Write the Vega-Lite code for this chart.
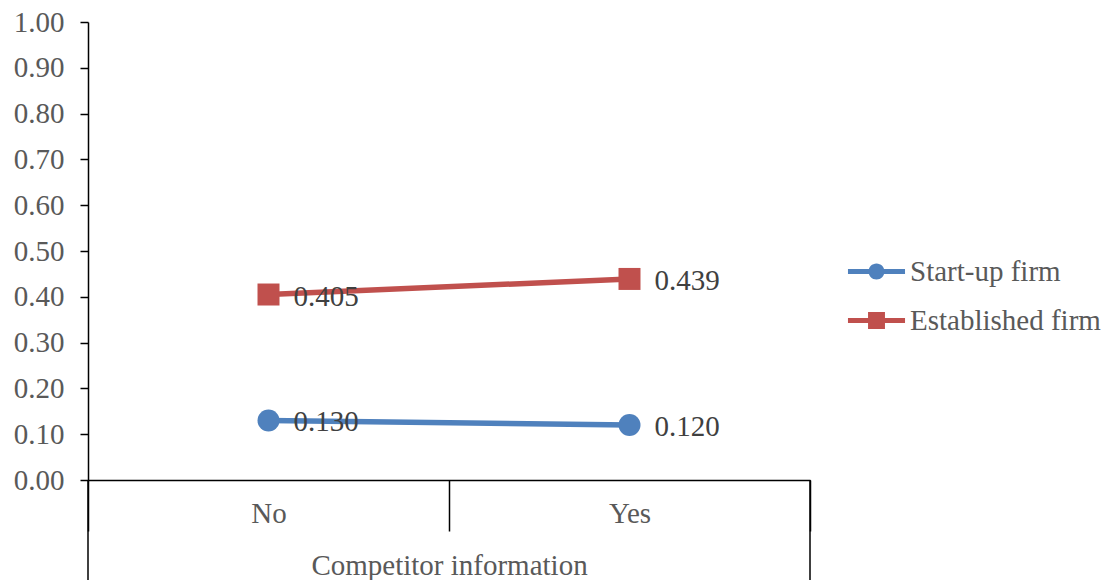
{
  "$schema": "https://vega.github.io/schema/vega-lite/v6.json",
  "autosize": "none",
  "width": 722,
  "height": 458,
  "padding": {"left": 88, "top": 22, "right": 298, "bottom": 100},
  "config": {
    "view": {"stroke": null},
    "font": "Liberation Serif"
  },
  "data": {
    "values": [
      {"info": "No", "firm": "Start-up firm", "value": 0.130},
      {"info": "Yes", "firm": "Start-up firm", "value": 0.120},
      {"info": "No", "firm": "Established firm", "value": 0.405},
      {"info": "Yes", "firm": "Established firm", "value": 0.439}
    ]
  },
  "encoding": {
    "x": {
      "field": "info",
      "type": "nominal",
      "scale": {"domain": ["No", "Yes"], "paddingInner": 0, "paddingOuter": 0},
      "axis": {
        "title": "Competitor information",
        "labelAngle": 0,
        "tickBand": "extent",
        "tickSize": 51,
        "tickWidth": 1.5,
        "tickColor": "#000000",
        "domainColor": "#000000",
        "domainWidth": 1.5,
        "labelFont": "Liberation Serif",
        "labelFontSize": 29,
        "labelColor": "#595959",
        "labelBaseline": "alphabetic",
        "labelPadding": -9,
        "titleFont": "Liberation Serif",
        "titleFontSize": 29,
        "titleFontWeight": "normal",
        "titleColor": "#595959",
        "titleBaseline": "alphabetic",
        "titleY": 94,
        "grid": false
      }
    },
    "y": {
      "field": "value",
      "type": "quantitative",
      "scale": {"domain": [0, 1], "nice": false, "zero": false},
      "axis": {
        "title": null,
        "values": [0, 0.1, 0.2, 0.3, 0.4, 0.5, 0.6, 0.7, 0.8, 0.9, 1.0],
        "format": ".2f",
        "tickSize": 8,
        "tickWidth": 1.5,
        "tickColor": "#000000",
        "domainColor": "#000000",
        "domainWidth": 1.5,
        "labelFont": "Liberation Serif",
        "labelFontSize": 29,
        "labelColor": "#595959",
        "labelPadding": 16,
        "grid": false
      }
    }
  },
  "layer": [
    {
      "mark": {"type": "line", "strokeWidth": 5.5},
      "encoding": {
        "color": {
          "field": "firm",
          "type": "nominal",
          "scale": {"domain": ["Start-up firm", "Established firm"], "range": ["#4F81BD", "#C0504D"]},
          "legend": {
            "title": null,
            "orient": "none",
            "legendX": 774,
            "legendY": 235,
            "padding": 0,
            "symbolSize": 324,
            "symbolStrokeWidth": 0,
            "labelOffset": 19,
            "labelLimit": 400,
            "labelFont": "Liberation Serif",
            "labelFontSize": 29,
            "labelColor": "#595959",
            "rowPadding": 19,
            "encode": {
              "symbols": {
                "update": {
                  "shape": {"signal": "datum.value === 'Start-up firm' ? 'M-3.17,-0.28H3.17V0.28H-3.17Z M0.89,0A0.89,0.89 0 1,1 -0.89,0A0.89,0.89 0 1,1 0.89,0Z' : 'M-3.17,-0.28H3.17V0.28H-3.17Z M-0.94,-0.94H0.94V0.94H-0.94Z'"},
                  "fill": {"signal": "datum.value === 'Start-up firm' ? '#4F81BD' : '#C0504D'"},
                  "strokeWidth": {"value": 0},
                  "opacity": {"value": 1}
                }
              }
            }
          }
        }
      }
    },
    {
      "transform": [{"filter": "datum.firm === 'Start-up firm'"}],
      "mark": {"type": "point", "shape": "circle", "filled": true, "opacity": 1, "size": 484},
      "encoding": {
        "color": {"field": "firm", "type": "nominal", "legend": null}
      }
    },
    {
      "transform": [{"filter": "datum.firm === 'Established firm'"}],
      "mark": {"type": "point", "shape": "square", "filled": true, "opacity": 1, "size": 484},
      "encoding": {
        "color": {"field": "firm", "type": "nominal", "legend": null}
      }
    },
    {
      "mark": {
        "type": "text",
        "align": "left",
        "baseline": "middle",
        "dx": 25,
        "dy": 2,
        "font": "Liberation Serif",
        "fontSize": 29,
        "color": "#404040"
      },
      "encoding": {
        "text": {"field": "value", "type": "quantitative", "format": ".3f"}
      }
    },
    {
      "data": {"values": [{"info": "No", "top": 0, "bottom": -0.22}]},
      "mark": {"type": "rule", "color": "#000000", "strokeWidth": 1.5, "clip": false},
      "encoding": {
        "x": {"field": "info", "type": "nominal", "bandPosition": 0},
        "y": {"field": "top", "type": "quantitative"},
        "y2": {"field": "bottom"}
      }
    },
    {
      "data": {"values": [{"info": "Yes", "top": 0, "bottom": -0.22}]},
      "mark": {"type": "rule", "color": "#000000", "strokeWidth": 1.5, "clip": false},
      "encoding": {
        "x": {"field": "info", "type": "nominal", "bandPosition": 1},
        "y": {"field": "top", "type": "quantitative"},
        "y2": {"field": "bottom"}
      }
    }
  ]
}
